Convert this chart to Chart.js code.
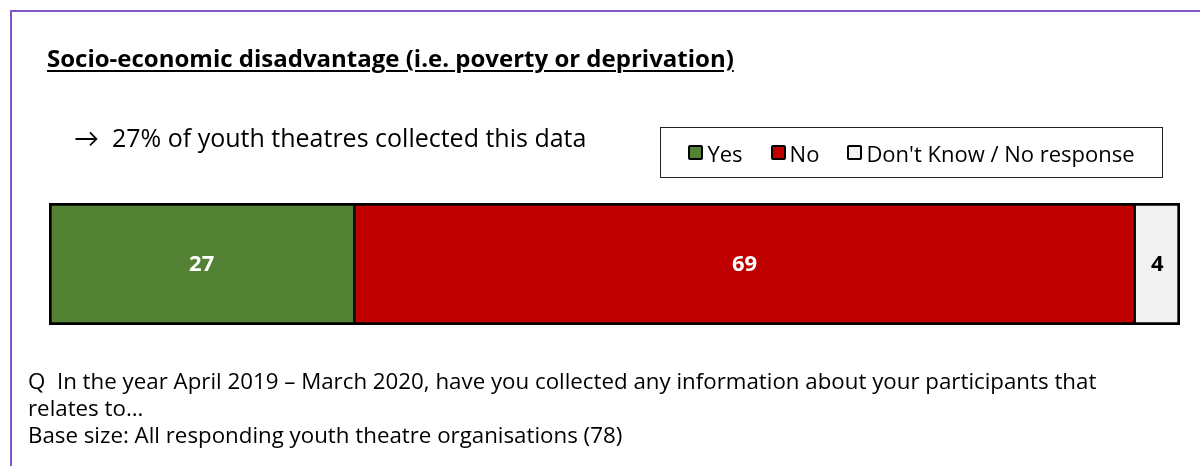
<!DOCTYPE html>
<html>
<head>
<meta charset="utf-8">
<script src="https://cdn.jsdelivr.net/npm/chart.js@4.4.1/dist/chart.umd.min.js"></script>
<style>
    html, body { margin: 0; padding: 0; background: #fff; }
    body { width: 1200px; height: 466px; position: relative; overflow: hidden; font-family: "Open Sans", Lato, sans-serif; color: #000; }
    #frame { position: absolute; left: 10px; top: 10px; width: 1200px; height: 470px; border-top: 2px solid #7F56C5; border-left: 2px solid #7F56C5; }
    #wrap { position: absolute; left: 0; top: 0; width: 1200px; height: 466px; }
    .title { position: absolute; left: 47px; top: 41px; font-size: 24px; font-weight: bold; text-decoration: underline; text-decoration-thickness: 2px; text-underline-offset: 3px; white-space: nowrap; }
    .sub { position: absolute; left: 74px; top: 120px; font-size: 25px; white-space: nowrap; }
    #legend { position: absolute; left: 660px; top: 127px; width: 501px; height: 49px; border: 1px solid #222; display: flex; align-items: center; justify-content: center; font-size: 22px; }
    #legend span.item { display: inline-flex; align-items: center; margin: 0 14px; }
    #legend span.box { display: inline-block; width: 11px; height: 11px; border: 2.5px solid #000; border-radius: 2px; margin-right: 4px; }
    .foot { position: absolute; left: 28px; top: 367px; font-size: 22.3px; line-height: 27px; white-space: nowrap; }
</style>
</head>
<body>
<div id="frame"></div>
<div id="wrap"><canvas id="myChart" width="1200" height="466"></canvas></div>
<div class="title" id="title"></div>
<div class="sub" id="sub"></div>
<div id="legend"></div>
<div class="foot" id="foot"></div>
<script>
var titleText = "Socio-economic disadvantage (i.e. poverty or deprivation)";
var subText = "\u2192  27% of youth theatres collected this data";
var footLines = [
    "Q  In the year April 2019 \u2013 March 2020, have you collected any information about your participants that",
    "relates to\u2026",
    "Base size: All responding youth theatre organisations (78)"
];

var categories = ["Socio-economic disadvantage"];
var seriesNames = ["Yes", "No", "Don't Know / No response"];
var yesValues = [27];
var noValues = [69];
var dontKnowValues = [4];
var seriesColors = ["#548235", "#C00000", "#F2F2F2"];
var labelColors = ["#ffffff", "#ffffff", "#000000"];

document.getElementById("title").textContent = titleText;
document.getElementById("foot").innerHTML = footLines.map(function (l) {
    return l.replace(/&/g, "&amp;").replace(/</g, "&lt;").replace(/  /g, "&nbsp; ");
}).join("<br>");
document.getElementById("sub").innerHTML = subText.replace(/  /g, "&nbsp; ");

var legend = document.getElementById("legend");
seriesNames.forEach(function (name, i) {
    var item = document.createElement("span");
    item.className = "item";
    var box = document.createElement("span");
    box.className = "box";
    box.style.background = seriesColors[i];
    item.appendChild(box);
    item.appendChild(document.createTextNode(name));
    legend.appendChild(item);
});

var allValues = [yesValues, noValues, dontKnowValues];

// draw the value in the middle of every segment
var valueLabels = {
    id: "valueLabels",
    afterDatasetsDraw: function (chart) {
        var ctx = chart.ctx;
        ctx.save();
        ctx.font = "bold 22px 'Open Sans', Lato, sans-serif";
        ctx.textAlign = "center";
        ctx.textBaseline = "middle";
        chart.data.datasets.forEach(function (ds, i) {
            chart.getDatasetMeta(i).data.forEach(function (bar, j) {
                var cx = (bar.x + bar.base) / 2;
                ctx.fillStyle = labelColors[i];
                ctx.fillText(ds.data[j], cx, bar.y + 1);
            });
        });
        ctx.restore();
    }
};

var ctx = document.getElementById("myChart").getContext("2d");
var chart = new Chart(ctx, {
    type: "bar",
    data: {
        labels: categories,
        datasets: allValues.map(function (vals, i) {
            var last = i === allValues.length - 1;
            return {
                label: seriesNames[i],
                data: vals,
                backgroundColor: seriesColors[i],
                borderColor: "#000",
                borderWidth: { top: 3, bottom: 3, left: i === 0 ? 3 : 1.5, right: last ? 3 : 1.5 },
                borderSkipped: false,
                barPercentage: 1,
                categoryPercentage: 1
            };
        })
    },
    options: {
        indexAxis: "y",
        responsive: false,
        animation: false,
        layout: { padding: { left: 49, right: 20, top: 203, bottom: 141 } },
        scales: {
            x: { stacked: true, display: false, min: 0, max: 100 },
            y: { stacked: true, display: false }
        },
        plugins: {
            legend: { display: false },
            tooltip: { enabled: false }
        }
    },
    plugins: [valueLabels]
});
</script>
</body>
</html>
